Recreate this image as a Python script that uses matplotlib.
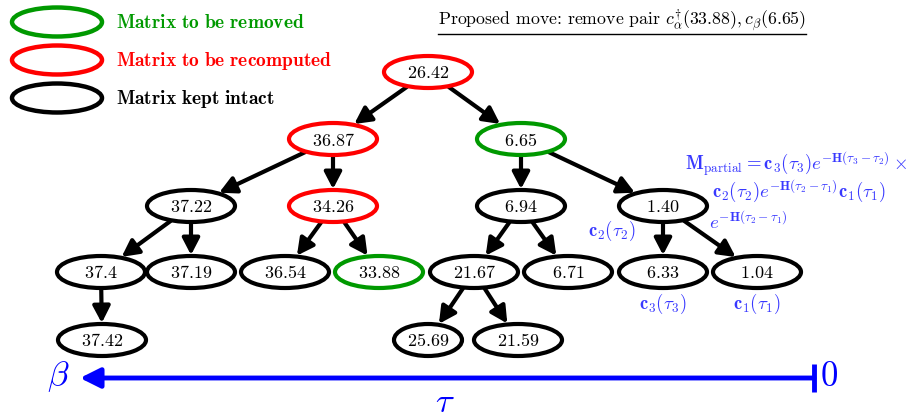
import numpy as np
import matplotlib
matplotlib.use("Agg")
import matplotlib.pyplot as plt
from matplotlib.patches import Ellipse, FancyArrowPatch

plt.rcParams['mathtext.fontset'] = 'cm'
plt.rcParams['font.family'] = 'serif'
plt.rcParams['font.serif'] = ['cmr10', 'DejaVu Serif']
plt.rcParams['axes.formatter.use_mathtext'] = True

# ---- data ----
node_labels = ["26.42", "36.87", "6.65", "37.22", "34.26", "6.94", "1.40",
               "37.4", "37.19", "36.54", "33.88", "21.67", "6.71", "6.33", "1.04",
               "37.42", "25.69", "21.59"]
node_status = ["recompute", "recompute", "remove", "kept", "recompute", "kept", "kept",
               "kept", "kept", "kept", "remove", "kept", "kept", "kept", "kept",
               "kept", "kept", "kept"]
edges = [("26.42", "36.87"), ("26.42", "6.65"),
         ("36.87", "37.22"), ("36.87", "34.26"),
         ("6.65", "6.94"), ("6.65", "1.40"),
         ("37.22", "37.4"), ("37.22", "37.19"),
         ("34.26", "36.54"), ("34.26", "33.88"),
         ("6.94", "21.67"), ("6.94", "6.71"),
         ("1.40", "6.33"), ("1.40", "1.04"),
         ("37.4", "37.42"),
         ("21.67", "25.69"), ("21.67", "21.59")]
legend_labels = ["Matrix to be removed", "Matrix to be recomputed", "Matrix kept intact"]
legend_status = ["remove", "recompute", "kept"]
removed_pair = ("33.88", "6.65")

# ---- layout / style ----
status_color = {"remove": "#009900", "recompute": "#ff0000", "kept": "#000000"}
blue = "#3838ff"
layout = {
    "26.42": (428, 72),
    "36.87": (333, 139), "6.65": (521, 139),
    "37.22": (191, 206), "34.26": (333, 206), "6.94": (521, 206), "1.40": (663, 206),
    "37.4": (101, 272), "37.19": (191, 272), "36.54": (285, 272), "33.88": (379, 272),
    "21.67": (474, 272), "6.71": (568, 272), "6.33": (663, 272), "1.04": (757, 272),
    "37.42": (102, 340), "25.69": (428, 340), "21.59": (518, 340),
}
EW, EH = 88, 32
width_override = {"25.69": 68}

fig = plt.figure(figsize=(9.13, 4.18), dpi=100)
ax = fig.add_axes([0, 0, 1, 1])
ax.set_xlim(0, 913)
ax.set_ylim(418, 0)
ax.axis('off')

sizes = {}
for lab, st in zip(node_labels, node_status):
    x, y = layout[lab]
    w = width_override.get(lab, EW)
    sizes[lab] = (w, EH)
    ax.add_patch(Ellipse((x, y), w, EH, fill=False, lw=3,
                         edgecolor=status_color[st], zorder=3))
    ax.text(x, y + 1, "$" + lab + "$", ha='center', va='center', fontsize=13, zorder=4)


def boundary(c, d, a, b):
    t = 1.0 / np.sqrt((d[0] / a) ** 2 + (d[1] / b) ** 2)
    return (c[0] + t * d[0], c[1] + t * d[1])


for p, c in edges:
    P = np.array(layout[p], float)
    C = np.array(layout[c], float)
    d = (C - P) / np.linalg.norm(C - P)
    wp, hp = sizes[p]
    wc, hc = sizes[c]
    start = boundary(P, d, wp / 2 + 1, hp / 2 + 1)
    end = boundary(C, -d, wc / 2 + 1, hc / 2 + 1)
    ax.add_patch(FancyArrowPatch(start, end, arrowstyle='-|>,head_length=0.5,head_width=0.26',
                                 mutation_scale=20, lw=3, color='black',
                                 shrinkA=0, shrinkB=0, zorder=2))

# legend
for i, (lab, st) in enumerate(zip(legend_labels, legend_status)):
    y = 22 + 38 * i
    ax.add_patch(Ellipse((57, y), 90, 29, fill=False, lw=3.2, edgecolor=status_color[st]))
    ax.text(116, y + 1, r"$\mathbf{" + lab.replace(" ", r"\ ") + "}$", ha='left', va='center',
            fontsize=14, color=status_color[st])

# title
ax.text(438, 21, r"Proposed move: remove pair $c^{\dagger}_{\alpha}(%s), c_{\beta}(%s)$"
        % removed_pair, ha='left', va='center', fontsize=12.8, family='cmr10')
ax.plot([438, 806], [34, 34], color='black', lw=1)

# blue annotations
fs_b = 13.5
ax.text(685, 164, r"$\mathbf{M}_{\mathrm{partial}} = \mathbf{c}_3(\tau_3)e^{-\mathbf{H}(\tau_3-\tau_2)}\times$",
        ha='left', va='center', fontsize=fs_b, color=blue)
ax.text(799, 191, r"$\mathbf{c}_2(\tau_2)e^{-\mathbf{H}(\tau_2-\tau_1)}\mathbf{c}_1(\tau_1)$",
        ha='center', va='center', fontsize=fs_b, color=blue)
ax.text(612, 231, r"$\mathbf{c}_2(\tau_2)$", ha='center', va='center', fontsize=fs_b, color=blue)
ax.text(748, 222, r"$e^{-\mathbf{H}(\tau_2-\tau_1)}$", ha='center', va='center', fontsize=fs_b, color=blue)
ax.text(663, 304, r"$\mathbf{c}_3(\tau_3)$", ha='center', va='center', fontsize=fs_b, color=blue)
ax.text(757, 304, r"$\mathbf{c}_1(\tau_1)$", ha='center', va='center', fontsize=fs_b, color=blue)

# tau axis
ax.add_patch(FancyArrowPatch((814, 378), (80, 378), arrowstyle='-|>,head_length=0.6,head_width=0.3',
                             mutation_scale=20, lw=3.5, color='#0000ff', shrinkA=0, shrinkB=0))
ax.plot([814, 814], [364, 392], color='#0000ff', lw=3.5, solid_capstyle='butt')
ax.text(58, 377, r"$\beta$", ha='center', va='center', fontsize=25, color='#0000ff')
ax.text(829, 377, r"$0$", ha='center', va='center', fontsize=25, color='#0000ff')
ax.text(445, 403, r"$\tau$", ha='center', va='center', fontsize=25, color='#0000ff')

fig.savefig("out.png", dpi=100)
